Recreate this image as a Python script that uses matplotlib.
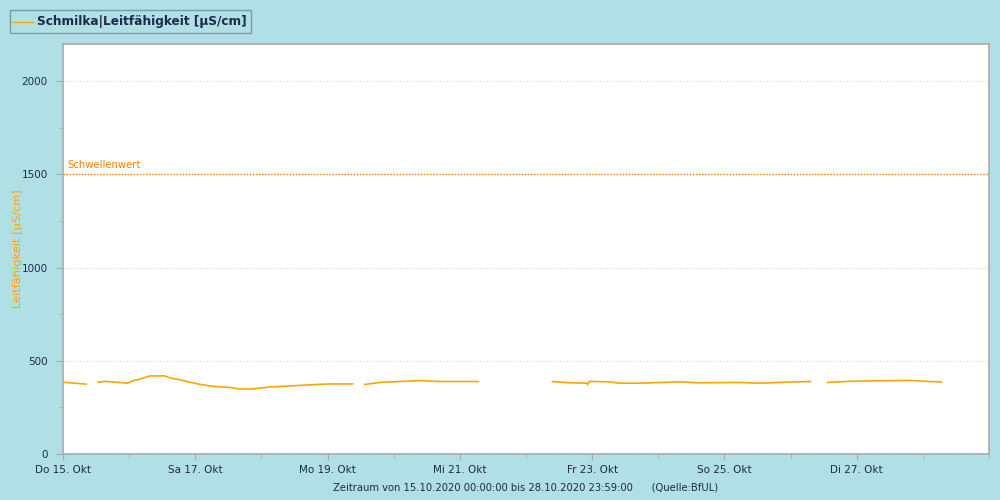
import numpy as np
import matplotlib
matplotlib.use("Agg")
import matplotlib.pyplot as plt
from matplotlib.ticker import MultipleLocator
from matplotlib.patches import Rectangle

# ---- data (day offset from 15.10.2020 00:00, conductivity µS/cm); NaN = gap
days = [0.00, 0.35, np.nan,
        0.53, 0.63, 0.98, 1.06, 1.16, 1.31, 1.54, 1.62, 1.77, 1.92, 2.07, 2.27,
        2.52, 2.67, 2.87, 3.13, 3.43, 3.73, 4.03, 4.38, np.nan,
        4.56, 4.79, 5.09, 5.39, 5.69, 6.28, np.nan,
        7.40, 7.66, 7.92, 7.93, 7.96, 8.26, 8.41, 8.72, 9.32, 9.62, 10.23,
        10.53, 10.98, 11.30, np.nan,
        11.56, 11.89, 12.19, 12.79, 13.10, 13.28]
values = [385, 375, np.nan,
          385, 390, 380, 394, 401, 419, 419, 408, 398, 385, 374, 363,
          357, 349, 349, 360, 365, 371, 376, 376, np.nan,
          373, 384, 389, 394, 389, 389, np.nan,
          389, 382, 380, 373, 390, 387, 380, 380, 387, 382, 384,
          380, 386, 389, np.nan,
          384, 390, 392, 395, 389, 387]
threshold = 1500
tick_days = [0, 2, 4, 6, 8, 10, 12]
tick_labels = ["Do 15. Okt", "Sa 17. Okt", "Mo 19. Okt", "Mi 21. Okt",
               "Fr 23. Okt", "So 25. Okt", "Di 27. Okt"]
y_ticks = [0, 500, 1000, 1500, 2000]

bg = "#B0DFE5"
navy = "#1E2A4A"
orange = "#FFA500"
spine_c = "#A9A9A9"

fig = plt.figure(figsize=(10, 5), dpi=100, facecolor=bg)
ax = fig.add_axes([0.063, 0.092, 0.926, 0.820])
ax.set_facecolor("white")

ax.plot(days, values, color=orange, lw=1.2)
ax.axhline(threshold, color="#FF8000", lw=1.0, ls=(0, (1, 1.2)))
ax.text(0.06, threshold + 25, "Schwellenwert", color="#FF8000", fontsize=7.3,
        va="bottom", ha="left")

ax.set_xlim(0, 14)
ax.set_ylim(0, 2200)
ax.set_yticks(y_ticks)
ax.yaxis.set_minor_locator(MultipleLocator(250))
ax.set_xticks(tick_days)
ax.set_xticklabels(tick_labels)
ax.xaxis.set_minor_locator(MultipleLocator(1))

ax.grid(axis="y", which="major", color="#D3D3D3", lw=0.8, ls=(0, (1, 2)))
for s in ax.spines.values():
    s.set_color(spine_c)
    s.set_linewidth(1.2)

ax.tick_params(axis="both", which="both", colors=spine_c, labelcolor=navy,
               labelsize=7.5)
ax.tick_params(axis="y", which="major", length=5, pad=6)
ax.tick_params(axis="y", which="minor", length=3)
ax.tick_params(axis="x", which="major", length=4, pad=4)
ax.tick_params(axis="x", which="minor", length=3)

ax.set_ylabel("Leitfähigkeit [µS/cm]", color=orange, fontsize=8.2)
ax.yaxis.set_label_coords(-0.043, 0.50)

# legend-like box
fig.add_artist(Rectangle((0.010, 0.934), 0.241, 0.046, transform=fig.transFigure,
                         fc=bg, ec="#7C9BA3", lw=1.0))
fig.add_artist(plt.Line2D([0.013, 0.033], [0.957, 0.957], color=orange, lw=0.9,
                          transform=fig.transFigure))
fig.text(0.037, 0.957, "Schmilka|Leitfähigkeit [µS/cm]", fontsize=8.7,
         fontweight="bold", color=navy, va="center", ha="left")

fig.text(0.526, 0.026,
         "Zeitraum von 15.10.2020 00:00:00 bis 28.10.2020 23:59:00      (Quelle:BfUL)",
         fontsize=7.2, color=navy, ha="center", va="center")

fig.savefig("out.png", dpi=100, facecolor=bg)
